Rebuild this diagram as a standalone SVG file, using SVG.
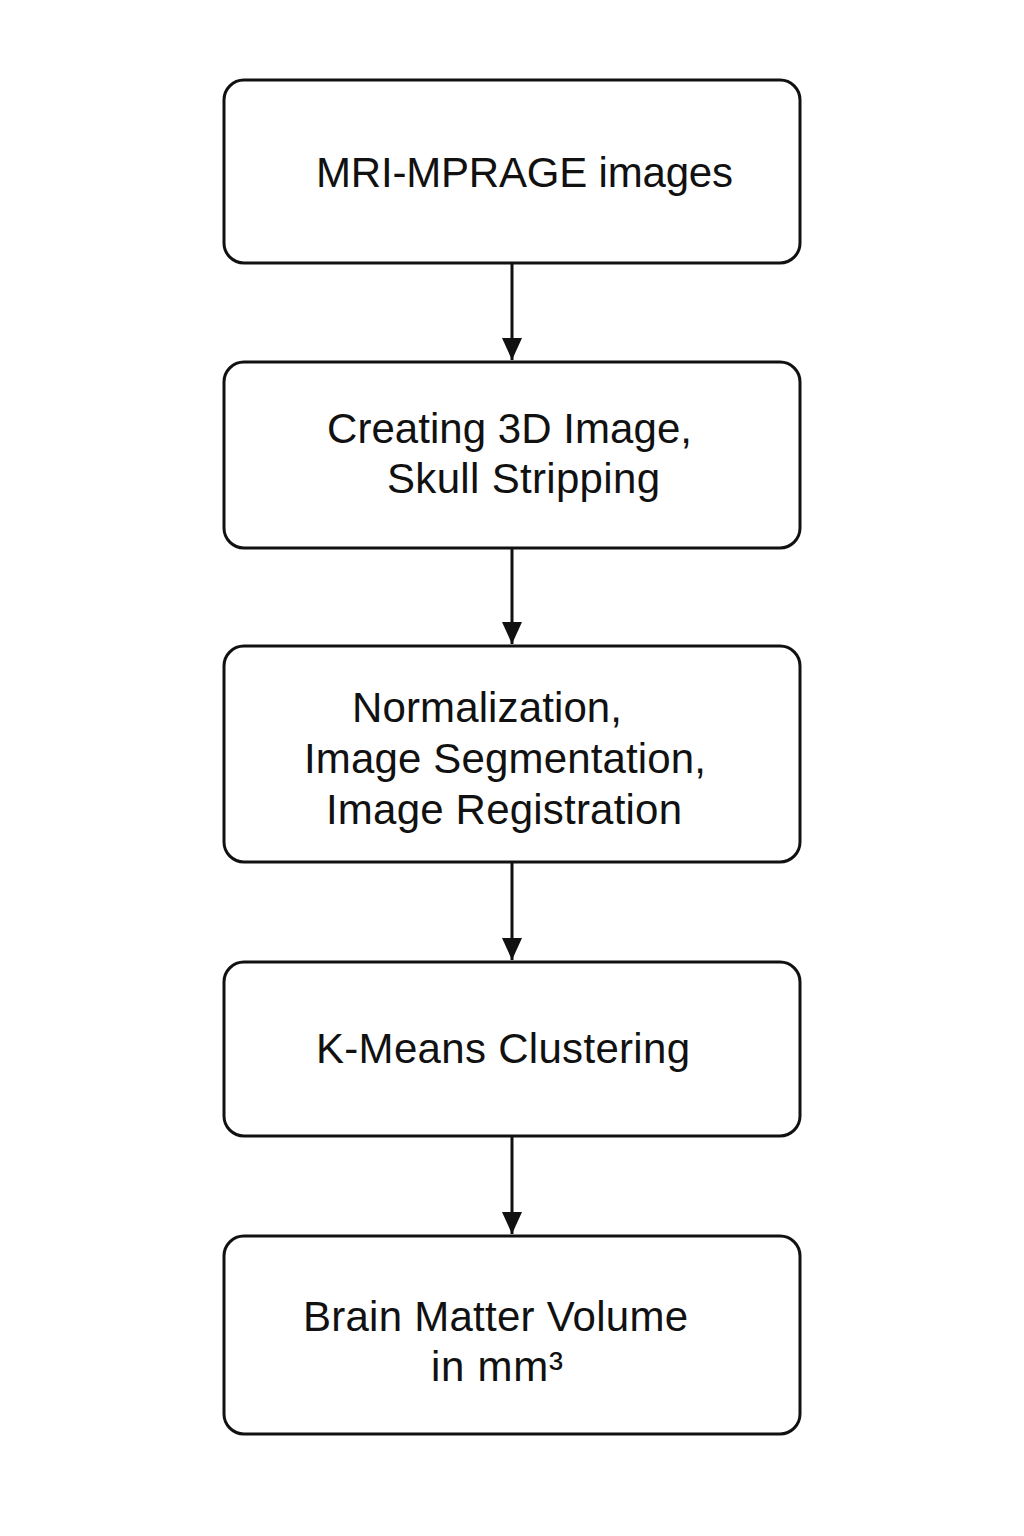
<svg xmlns="http://www.w3.org/2000/svg" width="1024" height="1536" viewBox="0 0 1024 1536">
<style>
.box{fill:#fff;stroke:#111;stroke-width:3}
.t{font-family:"Liberation Sans",Arial,sans-serif;font-size:42px;fill:#111}
.c{stroke:#111;stroke-width:3;fill:none}
</style>
<defs>
<marker id="ah" viewBox="0 0 22 20" refX="22" refY="10" markerWidth="22" markerHeight="20" markerUnits="userSpaceOnUse" orient="auto">
<path d="M0,0 L22,10 L0,20 Z" fill="#111"/>
</marker>
</defs>
<rect width="1024" height="1536" fill="#fff"/>
<g id="connectors">
<line class="c" x1="512" y1="263" x2="512" y2="360" marker-end="url(#ah)"/>
<line class="c" x1="512" y1="548" x2="512" y2="644" marker-end="url(#ah)"/>
<line class="c" x1="512" y1="862" x2="512" y2="960" marker-end="url(#ah)"/>
<line class="c" x1="512" y1="1136" x2="512" y2="1234" marker-end="url(#ah)"/>
</g>
<g id="n1">
<rect class="box" x="224" y="80" width="576" height="183" rx="20"/>
<text class="t" x="316" y="187" textLength="417">MRI-MPRAGE images</text>
</g>
<g id="n2">
<rect class="box" x="224" y="362" width="576" height="186" rx="20"/>
<text class="t" x="327" y="443" textLength="365">Creating 3D Image,</text>
<text class="t" x="387" y="493" textLength="273">Skull Stripping</text>
</g>
<g id="n3">
<rect class="box" x="224" y="646" width="576" height="216" rx="20"/>
<text class="t" x="352" y="722" textLength="270">Normalization,</text>
<text class="t" x="304" y="773" textLength="402">Image Segmentation,</text>
<text class="t" x="326" y="824" textLength="356">Image Registration</text>
</g>
<g id="n4">
<rect class="box" x="224" y="962" width="576" height="174" rx="20"/>
<text class="t" x="316" y="1063" textLength="374">K-Means Clustering</text>
</g>
<g id="n5">
<rect class="box" x="224" y="1236" width="576" height="198" rx="20"/>
<text class="t" x="303" y="1331" textLength="385">Brain Matter Volume</text>
<text class="t" x="431" y="1381" textLength="132">in mm³</text>
</g>
</svg>
